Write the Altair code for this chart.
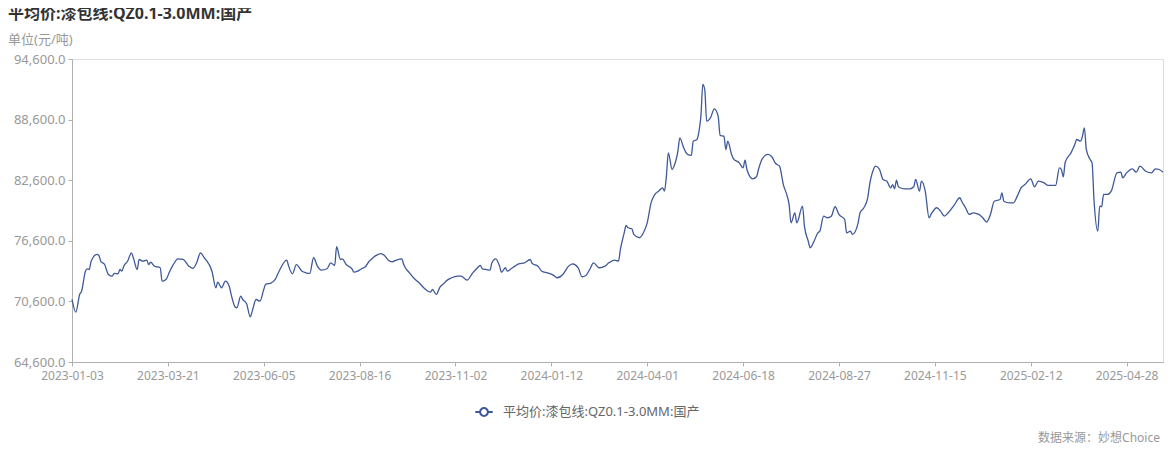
import json
import altair as alt
import pandas as pd

# ---------------- data ----------------
series_name = "平均价:漆包线:QZ0.1-3.0MM:国产"
title_text = "平均价:漆包线:QZ0.1-3.0MM:国产"
unit_text = "单位(元/吨)"
source_text = "数据来源：妙想Choice"

tick_labels = ["2023-01-03", "2023-03-21", "2023-06-05", "2023-08-16", "2023-11-02",
               "2024-01-12", "2024-04-01", "2024-06-18", "2024-08-27", "2024-11-15",
               "2025-02-12", "2025-04-28"]
tick_step = 50
last_index = 569

y_ticks = [64600, 70600, 76600, 82600, 88600, 94600]

idx = [0, 2, 4, 5, 7, 8, 9, 10, 13, 14, 15, 17, 19, 21, 22, 24, 25, 26, 27, 29,
       31, 32, 34, 35, 37, 39, 40, 41, 43, 46, 47, 49, 51, 54, 55, 58, 61, 63, 65, 67,
       69, 70, 73, 75, 76, 78, 80, 82, 83, 85, 86, 88, 89, 91, 93, 94, 96, 98, 100, 101,
       104, 106, 108, 112, 113, 115, 117, 120, 122, 124, 126, 128, 130, 133, 135, 137, 138, 140, 141, 143,
       146, 147, 149, 151, 153, 155, 156, 158, 161, 163, 165, 167, 169, 172, 173, 176, 179, 181, 184, 187,
       188, 190, 192, 194, 195, 198, 201, 203, 206, 209, 211, 213, 214, 216, 218, 219, 221, 223, 224, 226,
       227, 229, 231, 233, 236, 239, 240, 243, 245, 248, 251, 253, 256, 259, 261, 264, 266, 268, 270, 272,
       275, 278, 280, 283, 285, 286, 288, 289, 290, 292, 293, 296, 298, 300, 302, 304, 306, 308, 309, 310,
       311, 313, 314, 316, 317, 319, 321, 323, 324, 326, 327, 328, 329, 330, 331, 333, 335, 337, 338, 340,
       341, 342, 344, 345, 348, 350, 351, 352, 355, 357, 358, 360, 363, 365, 367, 369, 371, 373, 374, 375,
       377, 378, 381, 382, 384, 385, 387, 389, 390, 392, 394, 396, 398, 400, 403, 404, 406, 407, 410, 411,
       413, 415, 416, 418, 419, 421, 423, 425, 427, 428, 429, 430, 431, 434, 437, 439, 440, 442, 443, 445,
       447, 448, 451, 453, 455, 457, 460, 463, 464, 466, 468, 470, 473, 475, 477, 479, 481, 484, 485, 486,
       489, 491, 493, 495, 497, 500, 502, 504, 507, 509, 513, 515, 516, 517, 518, 521, 523, 524, 526, 527,
       528, 529, 531, 532, 533, 535, 536, 537, 538, 540, 542, 545, 547, 548, 550, 553, 555, 557, 560, 563,
       565, 567, 569]

price = [70790, 69530, 71290, 71610, 73590, 73830, 73760, 74580, 75250, 75150, 74580, 74250, 73270, 73100, 73370, 73330, 73760, 73590, 74090, 74580,
         75410, 74920, 73760, 74750, 74580, 74680, 74250, 74480, 74090, 73930, 72600, 72770, 73590, 74580, 74820, 74750, 74090, 73860, 74420, 75410,
         74920, 74680, 73590, 71950, 72500, 71950, 72600, 72110, 71290, 70070, 69970, 71120, 70790, 70400, 69080, 69640, 70790, 70620, 71780, 72280,
         72440, 72770, 73590, 74680, 74090, 73330, 74250, 73590, 73430, 73370, 74920, 74090, 73690, 73830, 74420, 74160, 76010, 74750, 74820, 74250,
         73830, 73490, 73590, 73830, 74030, 74580, 74750, 75080, 75340, 75150, 74680, 74520, 74680, 74820, 74250, 73430, 72770, 72440, 71850, 71510,
         71780, 71290, 72050, 72380, 72600, 72940, 73100, 73100, 72700, 73430, 73830, 74160, 73830, 73760, 73690, 74420, 74820, 74090, 73490, 73930,
         73590, 73830, 74090, 74320, 74420, 74750, 74350, 74090, 73590, 73430, 73200, 72940, 73270, 74090, 74320, 73930, 73040, 73170, 73760, 74420,
         73930, 74090, 74420, 74680, 74580, 75740, 77390, 78120, 77890, 77790, 77230, 76900, 77390, 78380, 80360, 81190, 81520, 81850, 81520, 83000,
         85310, 83660, 83990, 85470, 86800, 85810, 85150, 85050, 86460, 86630, 87450, 88940, 92080, 91580, 88440, 88780, 89670, 88940, 87030, 86960,
         85640, 86460, 85150, 84720, 84320, 83830, 84580, 83660, 82740, 82940, 83660, 84720, 85150, 84920, 84250, 83990, 82170, 81020, 80200, 78380,
         79370, 78380, 80030, 78050, 76560, 75910, 76560, 77390, 77550, 79040, 78880, 79040, 79970, 79210, 78710, 77390, 77550, 77230, 78380, 79370,
         79870, 80860, 82170, 83660, 83990, 83730, 82670, 82500, 81850, 82170, 81750, 82600, 81950, 81750, 81750, 81950, 82670, 81520, 82500, 81520,
         78880, 79210, 79870, 79540, 79040, 79370, 80100, 80860, 80520, 79870, 79210, 79370, 79210, 78880, 78450, 79210, 80520, 80690, 81350, 80520,
         80360, 80360, 81020, 81850, 82170, 82740, 81950, 82500, 82340, 82080, 82080, 83830, 83660, 82940, 84380, 85310, 86130, 86630, 86460, 86960,
         87790, 85640, 84650, 84320, 80690, 77550, 80030, 79970, 81190, 81190, 81520, 83330, 83390, 82840, 83330, 83730, 83390, 83990, 83490, 83330,
         83730, 83660, 83390]

# ---------------- styling ----------------
FONT = "Noto Sans, Noto Sans CJK SC"
LINE_COLOR = "#3f5898"
GRAY = "#999999"
AXIS_COLOR = "#b0b0b0"

PLOT_W = 1091
PLOT_H = 303
PAD = {"left": 64, "top": 51, "right": 2, "bottom": 81}

df = pd.DataFrame({"idx": idx, "price": price, "series": series_name})

label_expr = json.dumps(tick_labels) + "[round(datum.value / %d)]" % tick_step

# legend symbol: short line with a hollow circle in the middle
sym_path = ("M-1,0L-0.45,0M0.45,0L1,0"
            "M-0.45,0A0.45,0.45,0,1,1,0.45,0A0.45,0.45,0,1,1,-0.45,0Z")

line = alt.Chart(df).mark_line(strokeWidth=1.3, interpolate="monotone").encode(
    x=alt.X("idx:Q",
            scale=alt.Scale(domain=[0, last_index], nice=False, zero=False),
            axis=alt.Axis(values=list(range(0, len(tick_labels) * tick_step, tick_step)),
                          labelExpr=label_expr, title=None, grid=False,
                          domainColor=AXIS_COLOR, tickColor=AXIS_COLOR, tickSize=4,
                          labelColor=GRAY, labelFontSize=12, labelFont=FONT,
                          labelPadding=4, labelFlush=False, labelOverlap=False)),
    y=alt.Y("price:Q",
            scale=alt.Scale(domain=[y_ticks[0], y_ticks[-1]], nice=False, zero=False),
            axis=alt.Axis(values=y_ticks, format=",.1f", title=None, grid=False,
                          domainColor=AXIS_COLOR, tickColor=AXIS_COLOR, tickSize=4,
                          labelColor=GRAY, labelFontSize=13, labelFont=FONT,
                          labelPadding=3, labelFlush=False)),
    color=alt.Color("series:N", scale=alt.Scale(range=[LINE_COLOR]),
                    legend=alt.Legend(title=None, orient="none", legendX=402, legendY=343,
                                      symbolType=sym_path, symbolSize=300,
                                      symbolStrokeWidth=2, symbolFillColor="white",
                                      labelFont=FONT, labelFontSize=13, labelColor="#666666",
                                      labelLimit=400, labelOffset=9)),
)

title_df = pd.DataFrame({"t": [title_text]})
unit_df = pd.DataFrame({"t": [unit_text]})
src_df = pd.DataFrame({"t": [source_text]})

title_mark = alt.Chart(title_df).mark_text(
    align="left", baseline="middle", font=FONT, fontSize=16, fontWeight="bold", color="#333333"
).encode(text="t:N", x=alt.value(-64), y=alt.value(-45))

unit_mark = alt.Chart(unit_df).mark_text(
    align="left", baseline="middle", font=FONT, fontSize=13, color=GRAY
).encode(text="t:N", x=alt.value(-64), y=alt.value(-19))

src_mark = alt.Chart(src_df).mark_text(
    align="right", baseline="middle", font=FONT, fontSize=12, color=GRAY
).encode(text="t:N", x=alt.value(PLOT_W - 3), y=alt.value(379))

chart = alt.layer(line, title_mark, unit_mark, src_mark).properties(
    width=PLOT_W, height=PLOT_H,
    autosize=alt.AutoSizeParams(type="none"),
    padding=PAD,
).configure_view(stroke=None).configure(background="white")

chart.save("out.html", embed_options={"renderer": "svg", "actions": False})
